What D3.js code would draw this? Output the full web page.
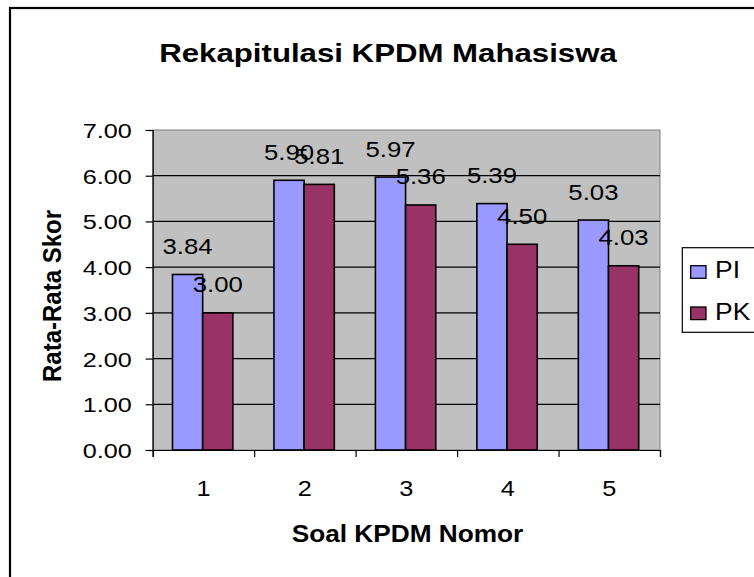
<!DOCTYPE html>
<html>
<head>
<meta charset="utf-8">
<script src="https://cdn.jsdelivr.net/npm/d3@7"></script>
<style>
  body { margin: 0; background: #fff; }
  text { font-family: Arial, "Liberation Sans", sans-serif; fill: #000; }
</style>
</head>
<body>
<div id="chart"></div>
<script>
// data
const categories = ['1', '2', '3', '4', '5'];
const seriesNames = ['PI', 'PK'];
const piValues = [3.84, 5.90, 5.97, 5.39, 5.03];
const pkValues = [3.00, 5.81, 5.36, 4.50, 4.03];
const yTicks = [0, 1, 2, 3, 4, 5, 6, 7];

const W = 754, H = 577;
const plot = { left: 152.7, right: 660, top: 130, bottom: 450 };
const sx = 1.2; // the picture is stretched sideways

const colors = { PI: '#9999ff', PK: '#993366' };

const rows = categories.map((c, i) => ({ cat: c, PI: piValues[i], PK: pkValues[i] }));

const svg = d3.select('#chart').append('svg')
  .attr('width', W)
  .attr('height', H);

// outer chart border
svg.append('rect')
  .attr('x', 10).attr('y', 8)
  .attr('width', 800).attr('height', 620)
  .attr('fill', '#fff')
  .attr('stroke', '#000')
  .attr('stroke-width', 2.2);

// scales
const x0 = d3.scaleBand()
  .domain(categories)
  .range([plot.left, plot.right])
  .padding(0);

const x1 = d3.scaleBand()
  .domain(seriesNames)
  .range([x0.bandwidth() * 0.195, x0.bandwidth() * 0.79]);

const y = d3.scaleLinear()
  .domain([0, 7])
  .range([plot.bottom, plot.top]);

// stretched text helper
const stext = (parent, x, yy, str, size, opts = {}) => parent.append('text')
  .attr('transform', `translate(${x},${yy}) scale(${opts.sx || sx},1)` + (opts.rotate ? ` rotate(${opts.rotate})` : ''))
  .attr('text-anchor', opts.anchor || 'middle')
  .style('font-size', size + 'px')
  .style('font-weight', opts.bold ? 'bold' : 'normal')
  .text(str);

// plot area
svg.append('rect')
  .attr('x', plot.left).attr('y', plot.top)
  .attr('width', plot.right - plot.left)
  .attr('height', plot.bottom - plot.top)
  .attr('fill', '#c0c0c0')
  .attr('stroke', '#808080')
  .attr('stroke-width', 1);

// gridlines
svg.append('g')
  .selectAll('line')
  .data(yTicks.filter(d => d > 0 && d < 7))
  .enter().append('line')
  .attr('x1', plot.left).attr('x2', plot.right)
  .attr('y1', d => y(d)).attr('y2', d => y(d))
  .attr('stroke', '#000')
  .attr('stroke-width', 1.2);

// bars
const groups = svg.append('g')
  .selectAll('g')
  .data(rows)
  .enter().append('g')
  .attr('transform', d => `translate(${x0(d.cat)},0)`);

groups.selectAll('rect')
  .data(d => seriesNames.map(s => ({ s, v: d[s] })))
  .enter().append('rect')
  .attr('x', d => x1(d.s))
  .attr('y', d => y(d.v))
  .attr('width', x1.bandwidth())
  .attr('height', d => plot.bottom - y(d.v))
  .attr('fill', d => colors[d.s])
  .attr('stroke', '#000')
  .attr('stroke-width', 1.6);

// data labels
groups.each(function (d) {
  const g = d3.select(this);
  seriesNames.forEach(s => {
    stext(g, x1(s) + x1.bandwidth() / 2, y(d[s]) - 20.5, d3.format('.2f')(d[s]), 23, { sx: 1.12 });
  });
});

// y axis
const yAxis = svg.append('g')
  .attr('transform', `translate(${plot.left},0)`)
  .call(d3.axisLeft(y).tickValues(yTicks).tickSize(7).tickFormat(''));
yAxis.select('.domain').attr('stroke', '#000').attr('stroke-width', 1.2);
yAxis.selectAll('.tick line').attr('stroke', '#000').attr('stroke-width', 1.2);

yTicks.forEach(t => {
  stext(svg, plot.left - 21, y(t) + 8, d3.format('.2f')(t), 21, { anchor: 'end', sx: 1.2 });
});

// x axis
const xAxis = svg.append('g')
  .attr('transform', `translate(0,${plot.bottom})`)
  .call(d3.axisBottom(d3.scaleLinear().domain([0, categories.length]).range([plot.left, plot.right]))
    .tickValues(d3.range(categories.length + 1)).tickSize(7).tickFormat(''));
xAxis.select('.domain').attr('stroke', '#000').attr('stroke-width', 1.2);
xAxis.selectAll('.tick line').attr('stroke', '#000').attr('stroke-width', 1.2);

categories.forEach(c => {
  stext(svg, x0(c) + x0.bandwidth() / 2, 496, c, 22, { sx: 1.15 });
});

// titles
stext(svg, 388, 62, 'Rekapitulasi KPDM Mahasiswa', 26, { bold: true, sx: 1.2 });
stext(svg, 407.5, 542, 'Soal KPDM Nomor', 23, { bold: true, sx: 1.14 });
stext(svg, 61, 296, 'Rata-Rata Skor', 24, { bold: true, sx: 1.05, rotate: -90 });

// legend
const legend = svg.append('g');
legend.append('rect')
  .attr('x', 682.3).attr('y', 247.7)
  .attr('width', 120).attr('height', 84.6)
  .attr('fill', '#fff')
  .attr('stroke', '#000')
  .attr('stroke-width', 1.2);

const legendY = d3.scalePoint().domain(seriesNames).range([278.3, 319.6]);
seriesNames.forEach(s => {
  legend.append('rect')
    .attr('x', 690.7).attr('y', legendY(s) - 12.6)
    .attr('width', 15.3).attr('height', 12.6)
    .attr('fill', colors[s])
    .attr('stroke', '#000')
    .attr('stroke-width', 1.3);
  stext(legend, 715, legendY(s), s, 23, { anchor: 'start', sx: 1.15 });
});
</script>
</body>
</html>
